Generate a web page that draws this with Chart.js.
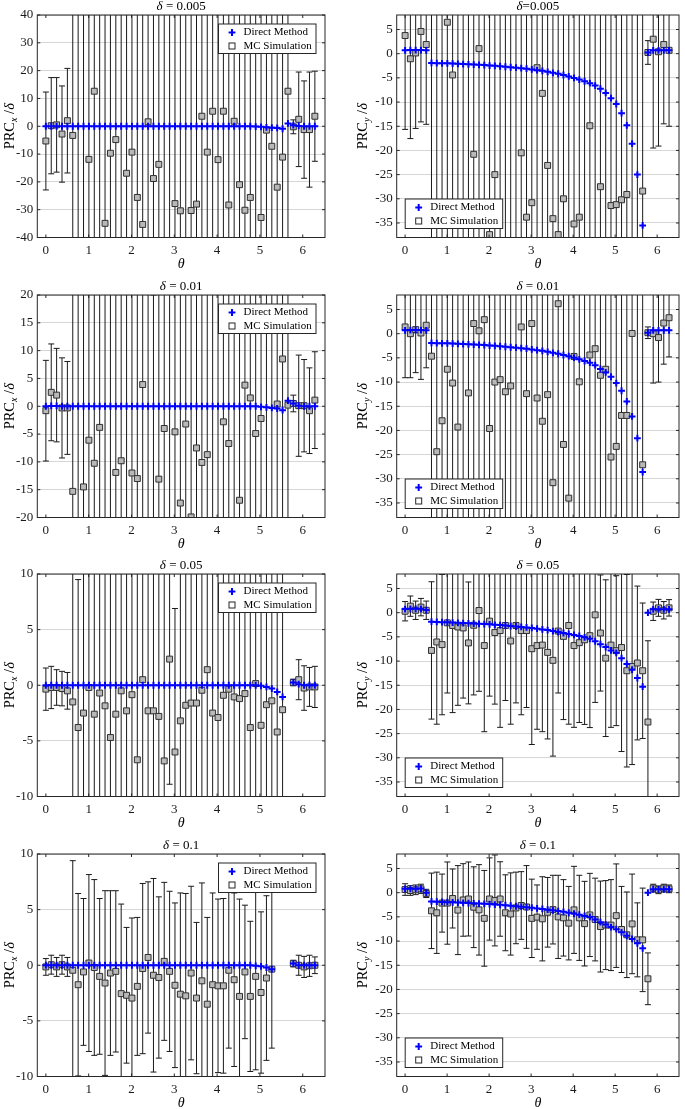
<!DOCTYPE html>
<html>
<head>
<meta charset="utf-8">
<script src="https://cdn.jsdelivr.net/npm/chart.js@4.4.1/dist/chart.umd.min.js"></script>
<style>
html, body { margin: 0; padding: 0; background: #fff; }
#fig { position: relative; width: 685px; height: 1109px; overflow: hidden; background: #fff; }
#fig canvas { position: absolute; }
</style>
</head>
<body>
<div id="fig"></div>
<script>
// theta grid (x values)
const theta = [0, 0.1257, 0.2513, 0.3770, 0.5027, 0.6283, 0.7540, 0.8796, 1.0053, 1.1310,
  1.2566, 1.3823, 1.5080, 1.6336, 1.7593, 1.8850, 2.0106, 2.1363, 2.2619, 2.3876,
  2.5133, 2.6389, 2.7646, 2.8903, 3.0159, 3.1416, 3.2673, 3.3929, 3.5186, 3.6442,
  3.7699, 3.8956, 4.0212, 4.1469, 4.2726, 4.3982, 4.5239, 4.6496, 4.7752, 4.9009,
  5.0265, 5.1522, 5.2779, 5.4035, 5.5292, 5.6549, 5.7805, 5.9062, 6.0319, 6.1575, 6.2832];

// tick labels
const xTickVals = [0, 1, 2, 3, 4, 5, 6];
const yTicksX005 = [-40, -30, -20, -10, 0, 10, 20, 30, 40];
const yTicksX01 = [-20, -15, -10, -5, 0, 5, 10, 15, 20];
const yTicksX05 = [-10, -5, 0, 5, 10];
const yTicksY = [-35, -30, -25, -20, -15, -10, -5, 0, 5];

// PRC_x, delta = 0.005
const dmX005 = [0, 0, 0, 0, 0,  0, 0, 0, 0, 0,  0, 0, 0, 0, 0,  0, 0, 0, 0, 0,
  0, 0, 0, 0, 0,  0, 0, 0, 0, 0,  0, 0, 0, 0, 0,  0, 0, 0, 0, -0.1,
  -0.2, -0.4, -0.5, -0.6, -0.9,  1.0, 0.4, 0.1, 0, 0,  0];
const mcX005 = [-5.3, 0.2, 0.5, -2.8, 2.0,  -3.3, -46, 45, -11.9, 12.6,  -48, -34.9, -9.7, -4.8, 44,
  -16.9, -9.3, -25.6, -35.3, 1.6,  -18.8, -13.7, -45, -47, -27.8,  -30.4, -44, -30.3, -28.0, 3.6,
  -9.3, 5.4, -12.0, 5.4, -28.3,  1.8, -21.0, -30.2, -25.6, -46,  -32.8, -1.4, -7.2, -21.9, -11.1,
  12.6, -0.2, 2.5, -1.2, -1.2,  3.6];
const errX005 = [17.6, 17.3, 17.0, 17.3, 18.8,  90, 90, 90, 90, 90,  90, 90, 90, 90, 90,
  90, 90, 90, 90, 90,  90, 90, 90, 90, 90,  90, 90, 90, 90, 90,  90, 90, 90, 90, 90,
  90, 90, 90, 90, 90,  90, 90, 90, 90, 90,  90, 2.5, 17.0, 17.5, 20.7,  16.2];

// PRC_x, delta = 0.01
const dmX01 = [0, 0.05, 0.05, 0, 0,  0, 0, 0, 0, 0,  0, 0, 0, 0, 0,  0, 0, 0, 0, 0,
  0, 0, 0, 0, 0,  0, 0, 0, 0, 0,  0, 0, 0, 0, 0,  0, 0, 0, 0, 0,
  -0.1, -0.2, -0.3, -0.4, -0.7,  1.0, 0.5, 0.1, 0, 0,  0];
const mcX01 = [-0.8, 2.5, 2.0, -0.3, -0.3,  -15.3, -24, -14.5, -6.1, -10.25,  -3.8, -23, 22, -11.9, -9.8,
  -24, -12.0, -13.0, 3.9, -22,  -25, -13.1, -4.0, 23, -4.6,  -17.4, -3.2, -19.9, -7.5, -10.1,
  -8.7, -23, -24, -2.8, -6.7,  -22, -16.9, 3.8, 1.5, -4.9,  -2.2, -23, -21, 0.4, 8.5,
  0.2, 0.5, 0.1, 0.1, -0.8,  1.1];
const errX01 = [9.05, 8.7, 8.4, 9.0, 8.35,  45, 45, 45, 45, 45,  45, 45, 45, 45, 45,
  45, 45, 45, 45, 45,  45, 45, 45, 45, 45,  45, 45, 45, 45, 45,  45, 45, 45, 45, 45,
  45, 45, 45, 45, 45,  45, 45, 45, 45, 45,  45, 1.5, 9.1, 8.3, 7.7,  8.7];

// PRC_x, delta = 0.05
const dmX05 = [0, 0, 0, 0, 0,  0, 0, 0, 0, 0,  0, 0, 0, 0, 0,  0, 0, 0, 0, 0,
  0, 0, 0, 0, 0,  0, 0, 0, 0, 0,  0, 0, 0, 0, 0,  0, 0, 0, 0, 0,
  -0.05, -0.15, -0.3, -0.6, -1.05,  null, 0.25, 0.1, 0, 0,  0];
const mcX05 = [-0.35, -0.2, -0.2, -0.3, -0.5,  -1.5, -3.8, -2.5, -0.2, -2.6,  -0.7, -1.85, -4.7, -2.6, -0.5,
  -2.3, -0.85, -6.7, 0.5, -2.3,  -2.3, -2.8, -6.8, 2.35, -6.0,  -3.2, -1.8, -1.6, -1.6, -0.45,
  1.4, -2.5, -2.9, -0.9, -0.35,  -1.05, -1.2, -0.75, -3.8, 0.15,  -3.6, -1.75, -1.4, -4.2, -2.2,
  null, 0.25, 0.5, -0.25, -0.15,  -0.15];
const errX05 = [1.9, 1.9, 1.6, 1.55, 1.65,  25, 13.3, 25, 25, 25,  25, 25, 25, 25, 25,
  25, 25, 25, 25, 25,  25, 25, 25, 11.25, 12.9,  25, 25, 25, 25, 25,  25, 25, 25, 25, 25,
  25, 25, 25, 25, 25,  25, 25, 25, 25, 25,  null, 0.3, 1.8, 2.0, 1.75,  1.85];

// PRC_x, delta = 0.1
const dmX1 = [0, 0, 0, 0, 0,  0, 0, 0, 0, 0,  0, 0, 0, 0, 0,  0, 0, 0, 0, 0,
  0, 0, 0, 0, 0,  0, 0, 0, 0, 0,  0, 0, 0, 0, 0,  0, 0, 0, 0, -0.05,
  -0.1, -0.2, -0.35, null, null,  null, 0.15, 0, 0, 0,  0];
const mcX1 = [-0.15, 0.05, -0.15, 0.05, -0.15,  -0.45, -1.75, -0.6, 0.2, -0.2,  -1.0, -1.6, -0.7, -0.55, -2.55,
  -2.7, -2.95, -1.9, -0.3, 0.7,  -0.9, -1.1, 0.35, -0.55, -1.8,  -2.6, -2.75, -0.7, -2.95, -1.4,
  -3.5, -1.75, -1.85, -1.85, -0.45,  -1.3, -2.8, -0.6, -2.8, -1.0,  -2.45, -1.15, -0.35, null, null,
  null, 0.15, 0, -0.15, -0.05,  0];
const errX1 = [0.75, 0.85, 0.85, 0.85, 0.85,  9.85, 8.2, 6.6, 7.95, 7.9,  7.0, 8.3, 7.4, 7.25, 8.05,
  6.1, 7.2, 6.2, 7.65, 6.8,  8.7, 7.25, 7.1, 7.2, 7.4,  9.1, 9.2, 7.8, 6.8, 8.8,
  7.8, 8.25, 7.8, 7.85, 7.0,  7.8, 8.75, 6.0, 6.75, 8.4,  7.25, 7.4, 7.1, null, null,
  null, 0.3, 0.9, 0.95, 0.95,  0.75];

// PRC_y, delta = 0.005
const dmY005 = [0.7, 0.75, 0.75, 0.75, 0.7,  -1.9, -1.95, -2.0, -2.0, -2.05,  -2.1, -2.15, -2.2, -2.25, -2.3,
  -2.35, -2.45, -2.5, -2.6, -2.7,  -2.8, -2.9, -3.0, -3.1, -3.25,  -3.4, -3.55, -3.75, -3.95, -4.15,
  -4.4, -4.7, -5.0, -5.35, -5.7,  -6.1, -6.6, -7.25, -8.1, -9.2,  -10.4, -12.3, -14.8, -18.6, -25.0,
  -35.5, 0.25, 0.7, 0.7, 0.7,  0.7];
const mcY005 = [3.75, -1.05, 0.15, 4.6, 1.9,  -40, -42, -41, 6.5, -4.4,  -45, -40, -43, -20.8, 1.05,
  -41, -37.4, -25.0, -42, -40,  -44, -41, -20.5, -33.8, -30.8,  -2.9, -8.2, -23.1, -34.1, -37.4,
  -30.0, -43, -35.2, -33.8, -42,  -14.9, -40, -27.5, -45, -31.4,  -31.2, -30.2, -29.1, -41, -43,
  -28.4, 0.25, 3.0, 0.4, 1.9,  0.7];
const errY005 = [19.4, 16.5, 15.6, 18.7, 16.5,  60, 60, 60, 60, 60,  60, 60, 60, 60, 60,
  60, 60, 60, 60, 60,  60, 60, 60, 60, 60,  60, 60, 60, 60, 60,  60, 60, 60, 60, 60,
  60, 60, 60, 60, 60,  60, 60, 60, 60, 60,  60, 2.45, 22.5, 19.5, 16.4,  15.7];

// PRC_y, delta = 0.01
const dmY01 = [0.7, 0.75, 0.75, 0.75, 0.7,  -1.9, -1.95, -2.0, -2.0, -2.05,  -2.1, -2.15, -2.2, -2.25, -2.3,
  -2.35, -2.45, -2.5, -2.6, -2.7,  -2.8, -2.9, -3.0, -3.1, -3.25,  -3.4, -3.55, -3.75, -3.95, -4.15,
  -4.4, -4.65, -4.95, -5.3, -5.65,  -6.0, -6.5, -7.3, -8.0, -8.9,  -10.2, -11.8, -14.0, -17.1, -21.6,
  -28.6, 0.2, 0.7, 0.7, 0.7,  0.7];
const mcY01 = [1.4, 0.0, 0.85, 0.15, 1.75,  -4.65, -24.4, -18.0, -7.35, -10.2,  -19.3, -42, -12.25, 2.1, 0.6,
  2.9, -19.6, -10.0, -9.5, -12.0,  -10.8, -40, 1.4, -12.4, 2.1,  -13.3, -18.1, -12.6, -30.8, 6.2,
  -22.9, -34.0, -4.7, -9.95, -41,  -4.4, -3.1, -8.6, -7.35, -25.5,  -23.3, -16.9, -16.9, 0.05, -42,
  -27.1, 0.2, 0.0, -0.8, 2.2,  3.3];
const errY01 = [10.5, 9.1, 8.9, 9.6, 8.8,  60, 60, 60, 60, 60,  60, 60, 60, 60, 60,
  60, 60, 60, 60, 60,  60, 60, 60, 60, 60,  60, 60, 60, 60, 60,  60, 60, 60, 60, 60,
  60, 60, 60, 60, 60,  60, 60, 60, 60, 60,  60, 1.2, 10.2, 9.2, 8.5,  8.1];

// PRC_y, delta = 0.05
const dmY05 = [0.75, 0.8, 0.8, 0.8, 0.55,  -1.85, -1.9, -1.95, -2.0, -2.05,  -2.1, -2.15, -2.2, -2.25, -2.3,
  -2.35, -2.4, -2.5, -2.55, -2.65,  -2.75, -2.85, -2.95, -3.05, -3.15,  -3.3, -3.45, -3.6, -3.8, -4.0,
  -4.2, -4.4, -4.6, -4.8, -5.1,  -5.4, -5.9, -6.5, -7.1, -7.8,  -8.3, -9.4, -10.6, -11.8, -13.5,
  -15.3, 0.0, 0.7, 0.7, 0.7,  0.7];
const mcY05 = [0.3, 1.35, 0.5, 1.15, 0.5,  -7.8, -6.05, -6.6, -2.1, -2.65,  -2.95, -3.15, -6.25, -2.6, 0.45,
  -6.8, -1.75, -4.1, -3.7, -2.65,  -5.85, -2.65, -3.7, -3.7, -7.45,  -6.8, -6.7, -8.2, -9.85, -3.8,
  -4.9, -2.65, -6.8, -6.2, -5.6,  -4.75, -0.45, -4.2, -9.4, -6.7,  -7.85, -7.2, -12.0, -11.1, -10.4,
  -12.0, -22.6, 0.3, 1.0, 0.5,  1.0];
const errY05 = [2.0, 2.1, 1.9, 1.8, 1.9,  14.2, 17, 14.5, 14.5, 18,  16.2, 14.5, 12.6, 14.4, 16.7,
  17.8, 15.5, 14.8, 20, 15.5,  17.2, 16, 17.4, 15.9, 19.8,  17.3, 17.9, 17.9, 19.8, 12.8,
  17.2, 20.4, 16.9, 16.5, 17.5,  19, 18.1, 12, 16.2, 17,  15.5, 21.5, 19.9, 20.3, 15.9,
  14, 16.8, 1.9, 1.75, 1.8,  1.7];

// PRC_y, delta = 0.1
const dmY1 = [0.8, 0.8, 0.8, 0.85, 0.0,  -1.8, -1.85, -1.9, -1.95, -2.0,  -2.05, -2.1, -2.15, -2.2, -2.25,
  -2.3, -2.35, -2.45, -2.5, -2.6,  -2.7, -2.8, -2.9, -3.0, -3.1,  -3.25, -3.35, -3.5, -3.65, -3.8,
  -3.95, -4.15, -4.35, -4.55, -4.8,  -5.0, -5.55, -6.1, -6.6, -7.1,  -7.55, -8.2, -8.9, -9.55, -10.45,
  -11.5, 0.0, 0.7, 0.7, 0.7,  0.7];
const mcY1 = [0.65, 0.45, 0.6, 0.8, -0.15,  -3.75, -4.15, -2.15, -2.15, -1.2,  -3.6, -1.5, -1.3, -3.0, -3.55,
  -5.3, -1.3, -1.6, -1.3, -4.15,  -4.4, -3.15, -2.65, -2.95, -5.3,  -5.05, -5.4, -4.05, -3.5, -5.0,
  -5.2, -6.3, -3.55, -5.2, -6.4,  -4.6, -5.55, -7.0, -6.7, -6.7,  -4.75, -7.6, -8.7, -6.45, -9.75,
  -9.75, -17.8, 0.95, 0.6, 0.95,  0.8];
const errY1 = [1.2, 1.0, 1.0, 0.95, 0.85,  7.8, 8.4, 6.0, 8.5, 6.1,  9.2, 7.5, 7.65, 8.35, 9.35,
  9.9, 8.5, 9.4, 7.7, 7.85,  8.5, 7.4, 7.0, 8.55, 8.1,  6.65, 8.7, 7.2, 7.1, 8.6,
  7.9, 7.6, 9.0, 8.8, 8.75,  8.6, 8.55, 9.4, 9.2, 9.4,  10.7, 8.9, 8.85, 10.3, 7.65,
  10.7, 5.35, 0.8, 0.8, 0.8,  0.8];

const F = '"Liberation Serif", "Times New Roman", Times, serif';
const rowTops = [0, 280, 559, 839];

const panels = [
  {col: 0, row: 0, title: ' = 0.005', sub: 'x', yMin: -40, yMax: 40, yTicks: yTicksX005, dm: dmX005, mc: mcX005, err: errX005},
  {col: 1, row: 0, title: '=0.005', sub: 'y', yMin: -38, yMax: 8, yTicks: yTicksY, dm: dmY005, mc: mcY005, err: errY005},
  {col: 0, row: 1, title: ' = 0.01', sub: 'x', yMin: -20, yMax: 20, yTicks: yTicksX01, dm: dmX01, mc: mcX01, err: errX01},
  {col: 1, row: 1, title: ' = 0.01', sub: 'y', yMin: -38, yMax: 8, yTicks: yTicksY, dm: dmY01, mc: mcY01, err: errY01},
  {col: 0, row: 2, title: ' = 0.05', sub: 'x', yMin: -10, yMax: 10, yTicks: yTicksX05, dm: dmX05, mc: mcX05, err: errX05},
  {col: 1, row: 2, title: ' = 0.05', sub: 'y', yMin: -38, yMax: 8, yTicks: yTicksY, dm: dmY05, mc: mcY05, err: errY05},
  {col: 0, row: 3, title: ' = 0.1', sub: 'x', yMin: -10, yMax: 10, yTicks: yTicksX05, dm: dmX1, mc: mcX1, err: errX1},
  {col: 1, row: 3, title: ' = 0.1', sub: 'y', yMin: -38, yMax: 8, yTicks: yTicksY, dm: dmY1, mc: mcY1, err: errY1}
];

function pts(arr) {
  const out = [];
  arr.forEach((v, i) => { if (v !== null) out.push({x: theta[i], y: v}); });
  return out;
}

// draw text pieces with different fonts, centred on x
function drawRuns(ctx, runs, x, y) {
  let w = 0;
  runs.forEach(r => { ctx.font = r.font; r.w = ctx.measureText(r.t).width; w += r.w; });
  let cx = x - w / 2;
  ctx.textAlign = 'left';
  runs.forEach(r => { ctx.font = r.font; ctx.fillText(r.t, cx, y + (r.dy || 0)); cx += r.w; });
}

function decoPlugin(p) {
  return {
    id: 'deco',
    beforeDatasetsDraw(chart) {
      const ctx = chart.ctx, a = chart.chartArea, xs = chart.scales.x, ys = chart.scales.y;
      ctx.save();
      ctx.beginPath();
      ctx.rect(a.left, a.top, a.right - a.left, a.bottom - a.top);
      ctx.clip();
      ctx.strokeStyle = '#1a1a1a';
      ctx.lineWidth = 1;
      p.mc.forEach((v, i) => {
        if (v === null || p.err[i] === null) return;
        const px = xs.getPixelForValue(theta[i]);
        const y1 = ys.getPixelForValue(v + p.err[i]);
        const y2 = ys.getPixelForValue(v - p.err[i]);
        ctx.beginPath();
        ctx.moveTo(px, y1); ctx.lineTo(px, y2);
        ctx.moveTo(px - 3, y1); ctx.lineTo(px + 3, y1);
        ctx.moveTo(px - 3, y2); ctx.lineTo(px + 3, y2);
        ctx.stroke();
      });
      ctx.restore();
    },
    afterDatasetsDraw(chart) {
      const ctx = chart.ctx, a = chart.chartArea, xs = chart.scales.x, ys = chart.scales.y;
      ctx.save();
      // axes box and inward ticks
      ctx.strokeStyle = '#262626';
      ctx.lineWidth = 1;
      ctx.strokeRect(a.left, a.top, a.right - a.left, a.bottom - a.top);
      ctx.beginPath();
      xs.ticks.forEach(t => {
        const px = xs.getPixelForValue(t.value);
        ctx.moveTo(px, a.bottom); ctx.lineTo(px, a.bottom - 3);
        ctx.moveTo(px, a.top); ctx.lineTo(px, a.top + 3);
      });
      ys.ticks.forEach(t => {
        const py = ys.getPixelForValue(t.value);
        ctx.moveTo(a.left, py); ctx.lineTo(a.left + 3, py);
        ctx.moveTo(a.right, py); ctx.lineTo(a.right - 3, py);
      });
      ctx.stroke();

      // legend
      const bw = 97.5, bh = 29.5;
      const lx = p.col === 0 ? a.right - 9 - bw : a.left + 8.5;
      const ly = p.col === 0 ? a.top + 9 : a.bottom - 9 - bh;
      ctx.fillStyle = '#fff';
      ctx.fillRect(lx, ly, bw, bh);
      ctx.strokeStyle = '#262626';
      ctx.strokeRect(lx, ly, bw, bh);
      const r1 = ly + 8.5, r2 = ly + 22, mx = lx + 13.5;
      ctx.strokeStyle = '#0000ff';
      ctx.lineWidth = 2;
      ctx.beginPath();
      ctx.moveTo(mx - 3.4, r1); ctx.lineTo(mx + 3.4, r1);
      ctx.moveTo(mx, r1 - 3.4); ctx.lineTo(mx, r1 + 3.4);
      ctx.stroke();
      ctx.lineWidth = 1;
      ctx.strokeStyle = '#262626';
      ctx.fillStyle = '#fff';
      ctx.fillRect(mx - 3, r2 - 3, 6, 6);
      ctx.strokeRect(mx - 3, r2 - 3, 6, 6);
      ctx.fillStyle = '#000';
      ctx.font = '11px ' + F;
      ctx.textAlign = 'left';
      ctx.textBaseline = 'middle';
      ctx.fillText('Direct Method', lx + 25, r1);
      ctx.fillText('MC Simulation', lx + 25, r2);
      ctx.restore();
    },
    afterDraw(chart) {
      const ctx = chart.ctx, a = chart.chartArea;
      const cx = (a.left + a.right) / 2, cy = (a.top + a.bottom) / 2;
      ctx.save();
      ctx.fillStyle = '#000';
      // title
      ctx.textBaseline = 'middle';
      drawRuns(ctx, [
        {t: 'δ', font: 'italic 13px ' + F},
        {t: p.title, font: '13px ' + F}
      ], cx, a.top - 8.5);
      // x label
      drawRuns(ctx, [{t: 'θ', font: 'italic 14px ' + F}], cx, a.bottom + 26.5);
      // y label
      ctx.translate(a.left - (p.col === 0 ? 23.5 : 30), cy);
      ctx.rotate(-Math.PI / 2);
      ctx.textBaseline = 'alphabetic';
      drawRuns(ctx, [
        {t: 'PRC', font: '14.5px ' + F},
        {t: p.sub, font: 'italic 10px ' + F, dy: 3.5},
        {t: ' /', font: '14.5px ' + F},
        {t: 'δ', font: 'italic 14.5px ' + F}
      ], 0, 0);
      ctx.restore();
    }
  };
}

const fig = document.getElementById('fig');
panels.forEach(p => {
  const cv = document.createElement('canvas');
  const w = p.col === 0 ? 340 : 345;
  cv.width = w;
  cv.height = 280;
  cv.style.width = w + 'px';
  cv.style.height = '280px';
  cv.style.left = (p.col === 0 ? 0 : 340) + 'px';
  cv.style.top = rowTops[p.row] + 'px';
  fig.appendChild(cv);

  new Chart(cv, {
    type: 'scatter',
    data: {
      datasets: [{
        label: 'Direct Method',
        data: pts(p.dm),
        pointStyle: 'cross',
        pointRadius: 3.4,
        pointBorderWidth: 2,
        borderColor: '#0000ff',
        backgroundColor: '#0000ff',
        order: 0
      }, {
        label: 'MC Simulation',
        data: pts(p.mc),
        pointStyle: 'rect',
        pointRadius: 4.2,
        pointBorderWidth: 1,
        borderColor: '#303030',
        backgroundColor: '#b8b8b8',
        order: 1
      }]
    },
    options: {
      responsive: false,
      animation: false,
      devicePixelRatio: 1,
      layout: {padding: {top: 15, left: 0, bottom: 0, right: p.col === 0 ? 15 : 1.7}},
      plugins: {legend: {display: false}, tooltip: {enabled: false}, title: {display: false}},
      scales: {
        x: {
          type: 'linear',
          min: -0.2,
          max: 6.52,
          afterBuildTicks: s => { s.ticks = xTickVals.map(v => ({value: v})); },
          afterFit: s => { s.height = 42.5; },
          grid: {display: false, drawTicks: false},
          border: {display: false},
          ticks: {color: '#1a1a1a', font: {family: F, size: 13}, padding: 5, maxRotation: 0}
        },
        y: {
          type: 'linear',
          min: p.yMin,
          max: p.yMax,
          afterBuildTicks: s => { s.ticks = p.yTicks.map(v => ({value: v})); },
          afterFit: s => { s.width = p.col === 0 ? 37.3 : 56.7; },
          grid: {color: '#d6d6d6', lineWidth: 1, drawTicks: false},
          border: {display: false},
          ticks: {color: '#1a1a1a', font: {family: F, size: 13}, padding: 4}
        }
      }
    },
    plugins: [decoPlugin(p)]
  });
});
</script>
</body>
</html>
